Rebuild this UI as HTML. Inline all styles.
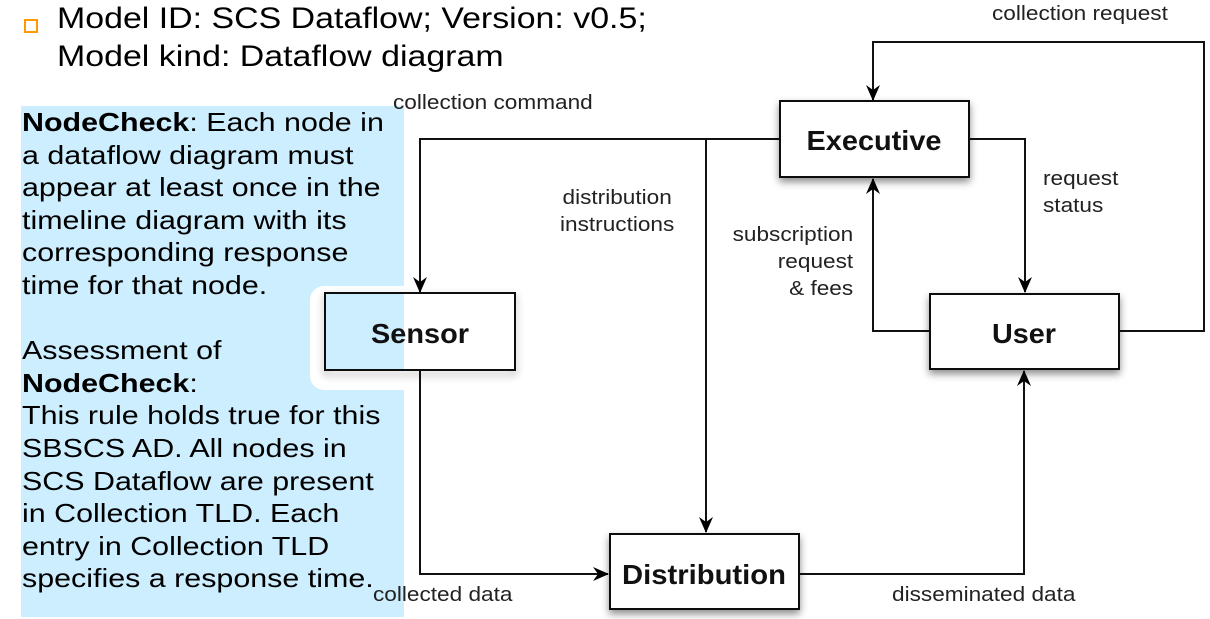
<!DOCTYPE html>
<html><head><meta charset="utf-8"><style>
body{margin:0;width:1210px;height:619px;background:#fff;position:relative;overflow:hidden;font-family:"Liberation Sans",Arial,sans-serif;}
.abs{position:absolute;}
.blue{left:21px;top:106px;width:383px;height:511px;background:#cdeefe;}
.halo{left:310px;top:286px;width:94px;height:104px;background:#fff;border-radius:14px 0 0 14px;}
.lt{left:22px;top:106px;font-size:26px;line-height:32.6px;color:#000;white-space:pre;transform-origin:0 0;transform:scaleX(1.17);}
.title{left:57px;font-size:30px;color:#000;white-space:nowrap;transform-origin:0 0;transform:scaleX(1.13);}
.lbl{font-size:20px;color:#222;white-space:nowrap;transform-origin:0 0;transform:scaleX(1.13);}
</style></head><body>
<div class="abs blue"></div>
<div class="abs halo"></div>
<div class="abs" style="left:24px;top:19px;width:10px;height:10px;border:2px solid #f90;"></div>
<div class="abs title" style="top:2px;">Model ID: SCS Dataflow; Version: v0.5;</div>
<div class="abs title" style="top:40px;">Model kind: Dataflow diagram</div>
<div class="abs lt"><b>NodeCheck</b>: Each node in
a dataflow diagram must
appear at least once in the
timeline diagram with its
corresponding response
time for that node.

Assessment of
<b>NodeCheck</b>:
This rule holds true for this
SBSCS AD. All nodes in
SCS Dataflow are present
in Collection TLD. Each
entry in Collection TLD
specifies a response time.</div>
<svg class="abs" style="left:0;top:0" width="1210" height="619">
<defs>
<marker id="a" viewBox="0 0 16 14" refX="15" refY="7" markerWidth="16" markerHeight="14" markerUnits="userSpaceOnUse" orient="auto"><path d="M0,0 L16,7 L0,14 L5,7 Z" fill="#000"/></marker>
<filter id="s" x="-20%" y="-20%" width="140%" height="160%"><feDropShadow dx="0" dy="4" stdDeviation="4" flood-color="#000" flood-opacity="0.45"/></filter>
</defs>
<g fill="none" stroke="#111" stroke-width="2">
<path d="M780,139 H420 V292" marker-end="url(#a)"/>
<path d="M706,139 V532" marker-end="url(#a)"/>
<path d="M420,370 V574 H608" marker-end="url(#a)"/>
<path d="M799,574 H1024 V371" marker-end="url(#a)"/>
<path d="M930,331 H873 V179" marker-end="url(#a)"/>
<path d="M968,139 H1025 V292" marker-end="url(#a)"/>
<path d="M1118,331 H1204 V42 H873 V100" marker-end="url(#a)"/>
</g>
<g stroke="#111" stroke-width="2" filter="url(#s)">
<rect x="780" y="101" width="189" height="76" fill="#fff"/>
<rect x="930" y="294" width="189" height="75" fill="#fff"/>
<rect x="610" y="534" width="189" height="75" fill="#fff"/>
<rect x="325" y="293" width="190" height="77" fill="none"/>
</g>
<rect x="326" y="294" width="78" height="75" fill="#cdeefe"/>
<rect x="404" y="294" width="110" height="75" fill="#fff"/>
<g font-family="Liberation Sans, Arial, sans-serif" font-weight="bold" font-size="28" text-anchor="middle" fill="#111">
<text x="874" y="150" textLength="135" lengthAdjust="spacingAndGlyphs">Executive</text>
<text x="1024" y="343" textLength="64" lengthAdjust="spacingAndGlyphs">User</text>
<text x="704" y="584" textLength="164" lengthAdjust="spacingAndGlyphs">Distribution</text>
<text x="420" y="343" textLength="98" lengthAdjust="spacingAndGlyphs">Sensor</text>
</g>
</svg>
<div class="abs lbl" style="left:393px;top:92px;">collection command</div>
<div class="abs lbl" style="left:992px;top:3px;">collection request</div>
<div class="abs lbl" style="left:560px;top:185px;text-align:center;line-height:27px;">distribution<br>instructions</div>
<div class="abs lbl" style="left:1043px;top:166px;line-height:27px;">request<br>status</div>
<div class="abs lbl" style="left:730px;top:222px;width:109px;text-align:right;line-height:27px;">subscription<br>request<br>&amp; fees</div>
<div class="abs lbl" style="left:373px;top:584px;">collected data</div>
<div class="abs lbl" style="left:892px;top:584px;">disseminated data</div>
</body></html>
